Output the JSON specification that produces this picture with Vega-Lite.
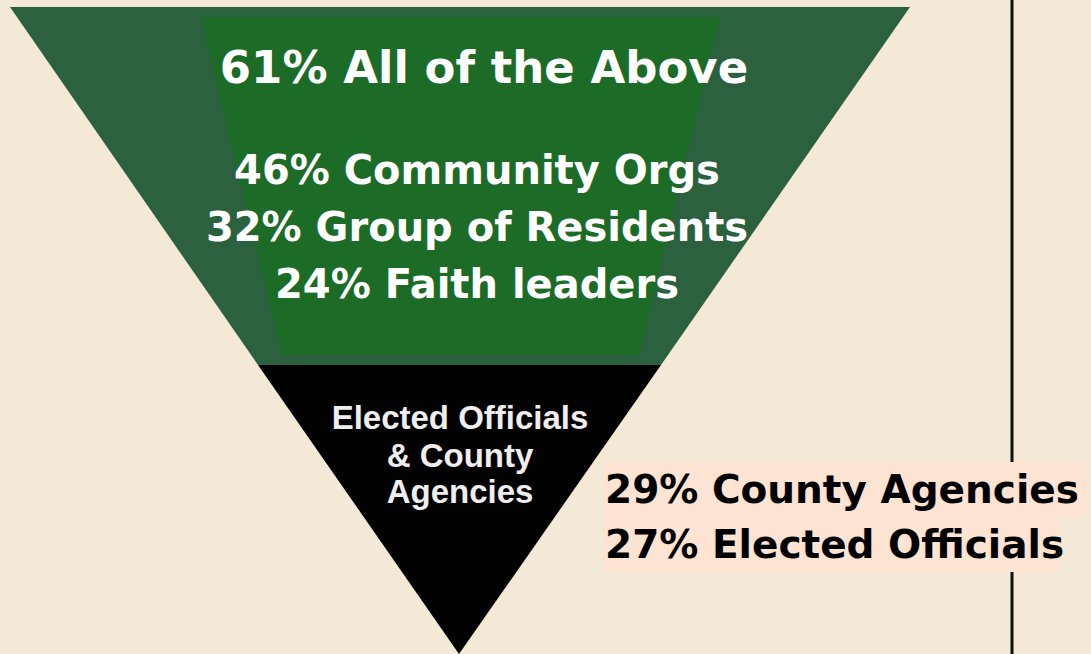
{
  "$schema": "https://vega.github.io/schema/vega-lite/v6.json",
  "width": 1091,
  "height": 654,
  "autosize": {"type": "none"},
  "padding": 0,
  "background": "#f3e9d6",
  "config": {"view": {"stroke": null}},
  "datasets": {
    "outer": [
      {"x": 10, "y": 7, "y2": 7},
      {"x": 258, "y": 7, "y2": 365},
      {"x": 661, "y": 7, "y2": 365},
      {"x": 910, "y": 7, "y2": 7}
    ],
    "inner": [
      {"x": 200, "y": 17, "y2": 17},
      {"x": 282, "y": 17, "y2": 355},
      {"x": 639, "y": 17, "y2": 355},
      {"x": 720, "y": 17, "y2": 17}
    ],
    "black": [
      {"x": 258, "y": 365, "y2": 365},
      {"x": 459, "y": 365, "y2": 654},
      {"x": 661, "y": 365, "y2": 365}
    ],
    "boxes": [
      {"x": 604, "x2": 1086, "y": 462, "y2": 517},
      {"x": 604, "x2": 1060, "y": 517, "y2": 572}
    ],
    "vline": [{"x": 1012, "y": 0, "y2": 654}],
    "title_text": [
      {"x": 484, "y": 69, "label": "61% All of the Above"}
    ],
    "green_text": [
      {"x": 477, "y": 172, "label": "46% Community Orgs"},
      {"x": 477, "y": 229, "label": "32% Group of Residents"},
      {"x": 477, "y": 286, "label": "24% Faith leaders"}
    ],
    "black_text": [
      {"x": 460, "y": 419, "label": "Elected Officials"},
      {"x": 460, "y": 457, "label": "& County"},
      {"x": 460, "y": 493, "label": "Agencies"}
    ],
    "right_text": [
      {"x": 605, "y": 491, "label": "29% County Agencies"},
      {"x": 605, "y": 546, "label": "27% Elected Officials"}
    ]
  },
  "encoding": {
    "x": {"field": "x", "type": "quantitative", "scale": {"domain": [0, 1091], "nice": false, "zero": false}, "axis": null},
    "y": {"field": "y", "type": "quantitative", "scale": {"domain": [0, 654], "reverse": true, "nice": false, "zero": false}, "axis": null}
  },
  "layer": [
    {
      "data": {"name": "vline"},
      "mark": {"type": "rule", "color": "#111111", "strokeWidth": 3},
      "encoding": {"y2": {"field": "y2"}}
    },
    {
      "data": {"name": "outer"},
      "mark": {"type": "area", "color": "#2c6140", "opacity": 1},
      "encoding": {"y2": {"field": "y2"}}
    },
    {
      "data": {"name": "inner"},
      "mark": {"type": "area", "color": "#1c6b26", "opacity": 1},
      "encoding": {"y2": {"field": "y2"}}
    },
    {
      "data": {"name": "black"},
      "mark": {"type": "area", "color": "#020202", "opacity": 1},
      "encoding": {"y2": {"field": "y2"}}
    },
    {
      "data": {"name": "boxes"},
      "mark": {"type": "rect", "color": "#fce3d2", "opacity": 1},
      "encoding": {"x2": {"field": "x2"}, "y2": {"field": "y2"}}
    },
    {
      "data": {"name": "title_text"},
      "mark": {"type": "text", "color": "#ffffff", "font": "DejaVu Sans", "fontWeight": "bold", "fontSize": 45, "align": "center", "baseline": "middle"},
      "encoding": {"text": {"field": "label"}}
    },
    {
      "data": {"name": "green_text"},
      "mark": {"type": "text", "color": "#ffffff", "font": "DejaVu Sans", "fontWeight": "bold", "fontSize": 40, "align": "center", "baseline": "middle"},
      "encoding": {"text": {"field": "label"}}
    },
    {
      "data": {"name": "black_text"},
      "mark": {"type": "text", "color": "#eeeeee", "font": "Liberation Sans", "fontWeight": "bold", "fontSize": 33, "align": "center", "baseline": "middle"},
      "encoding": {"text": {"field": "label"}}
    },
    {
      "data": {"name": "right_text"},
      "mark": {"type": "text", "color": "#000000", "font": "DejaVu Sans", "fontWeight": "bold", "fontSize": 39, "align": "left", "baseline": "middle"},
      "encoding": {"text": {"field": "label"}}
    }
  ]
}
